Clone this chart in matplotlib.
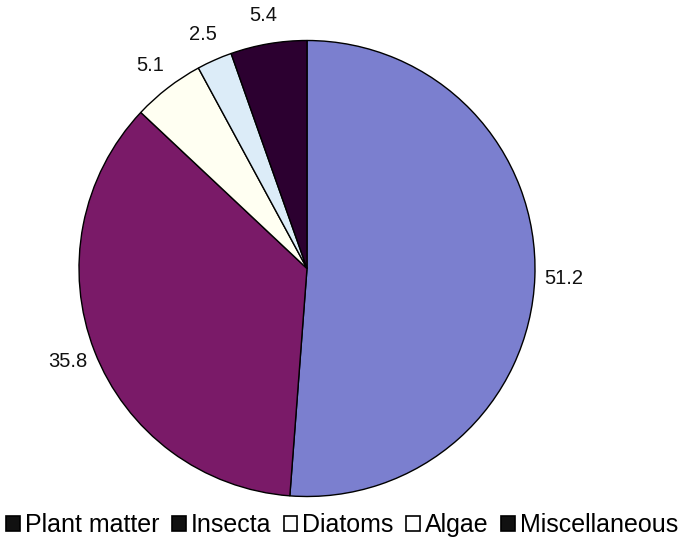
import matplotlib
matplotlib.use("Agg")
import matplotlib.pyplot as plt
from matplotlib.patches import Patch

categories = ["Plant matter", "Insecta", "Diatoms", "Algae", "Miscellaneous"]
values = [51.2, 35.8, 5.1, 2.5, 5.4]
colors = ["#7b7fcf", "#7a1a68", "#fffff2", "#dcecf8", "#2c0030"]
legend_faces = ["#111111", "#111111", "white", "white", "#111111"]

plt.rcParams["font.family"] = ["Liberation Sans", "DejaVu Sans"]

W, H = 684, 547
fig = plt.figure(figsize=(W / 100, H / 100), dpi=100)
cx, cy, r = 307, 268.5, 228
ax = fig.add_axes([(cx - r) / W, (H - cy - r) / H, 2 * r / W, 2 * r / H])

wedges, texts, autotexts = ax.pie(
    values,
    colors=colors,
    startangle=90,
    counterclock=False,
    autopct="%.1f",
    pctdistance=1.125,
    wedgeprops=dict(edgecolor="black", linewidth=1.0),
    textprops=dict(fontsize=14.5, color="#111111"),
)
ax.set_xlim(-1, 1)
ax.set_ylim(-1, 1)
ax.set_aspect("equal")

handles = [Patch(facecolor=f, edgecolor="black", linewidth=1.2) for f in legend_faces]
fig.legend(
    handles, categories,
    loc="center", bbox_to_anchor=(0.5, 1 - 525 / H),
    ncol=5, frameon=False, fontsize=18,
    handlelength=0.55, handleheight=0.55, handletextpad=0.2,
    columnspacing=0.5,
)

fig.savefig("out.png", dpi=100)
